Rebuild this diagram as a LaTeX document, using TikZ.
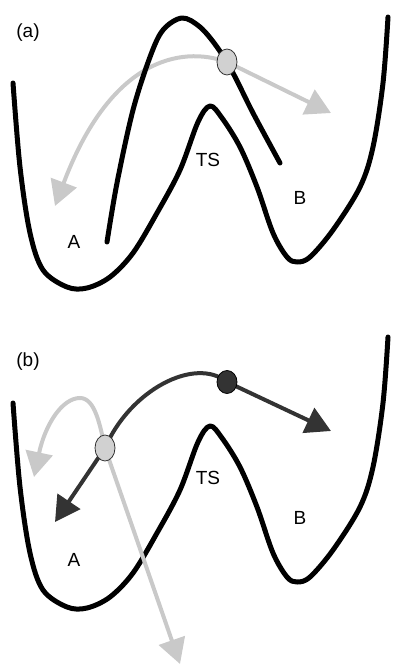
\documentclass[tikz,border=0pt]{standalone}
\usepackage{fontspec}
\setmainfont{Liberation Sans}
\usetikzlibrary{arrows.meta,shapes.geometric}
\definecolor{palegrey}{HTML}{C9C9C9}
\definecolor{darkgrey}{HTML}{333333}
\tikzset{
  well/.style={line width=5pt,line cap=round,line join=round},
  lightpath/.style={draw=palegrey,line width=4pt,{Triangle[length=25pt,width=27pt]}-{Triangle[length=25pt,width=27pt]}},
  darkpath/.style={draw=darkgrey,line width=4pt,{Triangle[length=25pt,width=27pt]}-{Triangle[length=25pt,width=27pt]}},
  lightball/.style={ellipse,draw=darkgrey,line width=0.8pt,fill=palegrey!85,minimum width=20pt,minimum height=26pt,inner sep=0pt},
  darkball/.style={ellipse,draw=black,line width=0.8pt,fill=darkgrey,minimum width=20pt,minimum height=23pt,inner sep=0pt},
  lbl/.style={font=\fontsize{19}{21}\selectfont,inner sep=0pt}
}
\begin{document}
\begin{tikzpicture}[x=1pt,y=-1pt]
  \useasboundingbox (0,0) rectangle (394,666);
  % (a)
  \node[lbl] (panelA) at (28,33) {(a)};
  \coordinate (aTipL) at (55,206);
  \coordinate (aTipR) at (331,113);
  \coordinate (aBall) at (227,62);
  \draw[lightpath] (aTipL) .. controls (110,60) and (180,45) .. (aBall) -- (aTipR);
  \draw[well] plot[smooth,tension=0.55] coordinates {(13,83) (20,167) (30,233) (43,270) (67,287) (87,288) (110,277) (133,253) (157,213) (180,170) (198,122) (210,106) (222,118) (240,147) (257,187) (273,233) (287,257) (297,262) (310,257) (333,230) (360,187) (373,147) (383,83) (388,17)};
  \draw[well] plot[smooth,tension=0.55] coordinates {(107,242) (117,183) (133,110) (150,57) (163,30) (182,18) (200,27) (217,47) (233,73) (253,113) (280,163)};
  \node[lightball] (ballA) at (aBall) {};
  \node[lbl] (labA) at (74,242) {A};
  \node[lbl] (labTS) at (208,160) {TS};
  \node[lbl] (labB) at (300,198) {B};
  % (b)
  \begin{scope}[shift={(0,320)}]
    \node[lbl] (panelB) at (28,42) {(b)};
    \coordinate (bGreyTip) at (34,157);
    \coordinate (bGreyEnd) at (180,344);
    \coordinate (bDarkTip) at (55,202);
    \coordinate (bDarkEnd) at (331,111);
    \coordinate (bLight) at (105,128);
    \coordinate (bDark) at (227,62);
    \draw[well] plot[smooth,tension=0.55] coordinates {(13,83) (20,167) (30,233) (43,270) (67,287) (87,288) (110,277) (133,253) (157,213) (180,170) (198,122) (210,106) (222,118) (240,147) (257,187) (273,233) (287,257) (297,262) (310,257) (333,230) (360,187) (373,147) (383,83) (388,17)};
    \draw[lightpath] (bGreyTip) .. controls (45,105) and (62,78) .. (80,78) .. controls (95,78) and (100,105) .. (bLight) -- (bGreyEnd);
    \draw[darkpath] (bDarkTip) -- (bLight) .. controls (130,70) and (195,36) .. (bDark) -- (bDarkEnd);
    \node[lightball] (ballLight) at (bLight) {};
    \node[darkball] (ballDark) at (bDark) {};
    \node[lbl] (labA2) at (74,240) {A};
    \node[lbl] (labTS2) at (208,158) {TS};
    \node[lbl] (labB2) at (300,198) {B};
  \end{scope}
\end{tikzpicture}
\end{document}
